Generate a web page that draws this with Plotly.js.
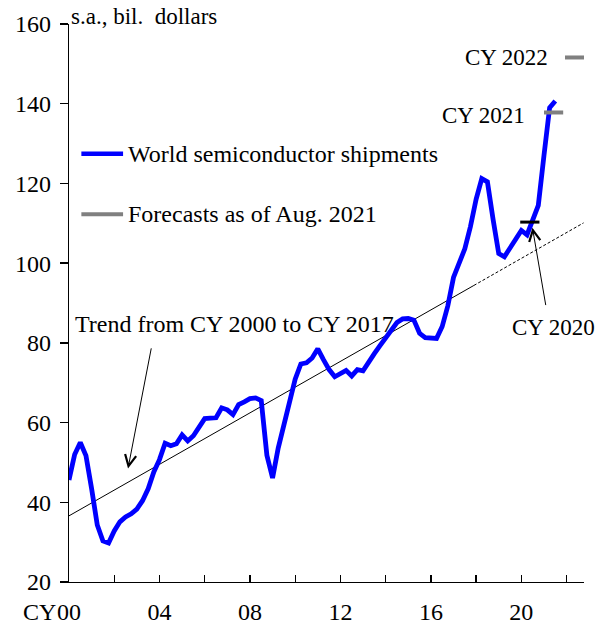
<!DOCTYPE html>
<html>
<head>
<meta charset="utf-8">
<script src="https://cdn.plot.ly/plotly-3.0.1.min.js"></script>
<style>html,body{margin:0;padding:0;background:#fff;}#chart{width:604px;height:626px;}</style>
</head>
<body>
<div id="chart"></div>
<script>
// ---- data ----
var startYear = 2000;           // first quarter plotted
var quarterStep = 0.25;
var shipments = [
  45.6, 52.0, 55.0, 51.7, 43.4, 34.3, 30.3, 29.8,
  32.8, 35.1, 36.3, 37.1, 38.3, 40.4, 43.4, 47.6,
  50.7, 54.8, 54.2, 54.7, 56.9, 55.4, 56.7, 58.7,
  61.0, 61.1, 61.2, 63.7, 63.2, 62.0, 64.5, 65.2,
  66.0, 66.2, 65.5, 51.8, 46.1, 53.6, 59.7, 66.0,
  70.9, 74.7, 75.0, 76.2, 78.5, 75.8, 73.3, 71.5,
  72.4, 73.1, 71.7, 73.3, 73.0, 75.3, 77.3, 79.3,
  81.3, 83.3, 85.1, 86.0, 86.1, 85.7, 82.4, 81.3,
  81.1, 81.1, 84.1, 89.3, 96.4, 100.4, 103.6, 109.2,
  116.0, 121.2, 120.4, 111.0, 102.4, 101.6, 103.7, 105.8,
  108.2, 107.1, 110.5, 114.5, 127.0, 139.0, 140.7
];
var trendX = [2000.0, 2017.9];
var trendY = [36.6, 94.4];
var trendExtX = [2017.9, 2022.75];
var trendExtY = [94.4, 110.1];
var cy2020X = [2019.95, 2020.8];
var cy2020Y = [110.3, 110.3];
var fc2021X = [2021.0, 2021.85];
var fc2021Y = [137.8, 137.8];
var fc2022X = [2021.93, 2022.85];
var fc2022Y = [151.6, 151.6];
var tickVals = [2000, 2002, 2004, 2006, 2008, 2010, 2012, 2014, 2016, 2018, 2020, 2022];
var tickText = ['00', '', '04', '', '08', '', '12', '', '16', '', '20', ''];
var yTicks = [20, 40, 60, 80, 100, 120, 140, 160];

var quarters = shipments.map(function (v, i) { return startYear + i * quarterStep; });

var FONT = 'Liberation Serif, Times New Roman, serif';

var traces = [
  {x: trendX, y: trendY, mode: 'lines', line: {color: '#000', width: 1}, hoverinfo: 'skip'},
  {x: trendExtX, y: trendExtY, mode: 'lines', line: {color: '#000', width: 1, dash: '3px,2px'}, hoverinfo: 'skip'},
  {x: quarters, y: shipments, mode: 'lines', name: 'World semiconductor shipments',
   line: {color: '#0000ff', width: 4.8}},
  {x: cy2020X, y: cy2020Y, mode: 'lines', line: {color: '#000', width: 3}},
  {x: fc2021X, y: fc2021Y, mode: 'lines', name: 'Forecasts as of Aug. 2021', line: {color: '#808080', width: 4}, cliponaxis: false},
  {x: fc2022X, y: fc2022Y, mode: 'lines', line: {color: '#808080', width: 4}, cliponaxis: false}
];

var txt = function (s, x, y, xa, size) {
  return {text: s, x: x, y: y, xref: 'x', yref: 'y', xanchor: xa, yanchor: 'middle',
          showarrow: false, font: {family: FONT, size: size || 24, color: '#000'}};
};

var layout = {
  width: 604, height: 626,
  margin: {l: 69, r: 20, t: 24, b: 44, pad: 0},
  paper_bgcolor: '#fff', plot_bgcolor: '#fff',
  showlegend: false,
  font: {family: FONT, size: 24, color: '#000'},
  xaxis: {
    range: [2000, 2022.77], tickmode: 'array', tickvals: tickVals, ticktext: tickText,
    ticks: 'inside', ticklen: 7, tickwidth: 1.3, tickcolor: '#000',
    showline: true, linecolor: '#000', linewidth: 1.3, showgrid: false, zeroline: false,
    tickfont: {family: FONT, size: 24, color: '#000'}, ticklabelstandoff: 8
  },
  yaxis: {
    range: [20, 160], tickmode: 'array', tickvals: yTicks,
    ticks: 'outside', ticklen: 8, tickwidth: 1.3, tickcolor: '#000',
    showline: true, linecolor: '#000', linewidth: 1.3, showgrid: false, zeroline: false,
    tickfont: {family: FONT, size: 24, color: '#000'}, ticklabelstandoff: 4
  },
  shapes: [
    {type: 'line', xref: 'paper', yref: 'paper', x0: 0.024, x1: 0.105, y0: 0.7675, y1: 0.7675,
     line: {color: '#0000ff', width: 4.5}},
    {type: 'line', xref: 'paper', yref: 'paper', x0: 0.024, x1: 0.105, y0: 0.659, y1: 0.659,
     line: {color: '#808080', width: 4}}
  ],
  annotations: [
    {text: 's.a., bil.  dollars', xref: 'paper', yref: 'paper', x: 0, y: 1, xanchor: 'left', yanchor: 'middle',
     yshift: 8, xshift: 0, showarrow: false, font: {family: FONT, size: 23, color: '#000'}},
    {text: 'CY', xref: 'paper', yref: 'paper', x: 0, y: 0, xanchor: 'right', yanchor: 'middle',
     xshift: -11, yshift: -30, showarrow: false, font: {family: FONT, size: 24, color: '#000'}},
    txt('World semiconductor shipments', 2002.52, 127.5, 'left'),
    txt('Forecasts as of Aug. 2021', 2002.52, 112.3, 'left'),
    txt('Trend from CY 2000 to CY 2017', 2007.3, 84.7, 'center'),
    txt('CY 2020', 2021.42, 83.8, 'center', 23),
    txt('CY 2021', 2020.27, 137.0, 'right', 23),
    txt('CY 2022', 2021.27, 151.5, 'right', 23),
    {text: '', x: 2002.61, y: 48.5, ax: 2003.65, ay: 79.0, xref: 'x', yref: 'y', axref: 'x', ayref: 'y',
     showarrow: true, arrowhead: 5, arrowsize: 2.2, arrowwidth: 1, arrowcolor: '#000', standoff: 0},
    {text: '', x: 2020.49, y: 108.9, ax: 2021.09, ay: 89.1, xref: 'x', yref: 'y', axref: 'x', ayref: 'y',
     showarrow: true, arrowhead: 5, arrowsize: 2.2, arrowwidth: 1, arrowcolor: '#000', standoff: 0}
  ]
};

Plotly.newPlot('chart', traces, layout, {staticPlot: true, displayModeBar: false});
</script>
</body>
</html>
